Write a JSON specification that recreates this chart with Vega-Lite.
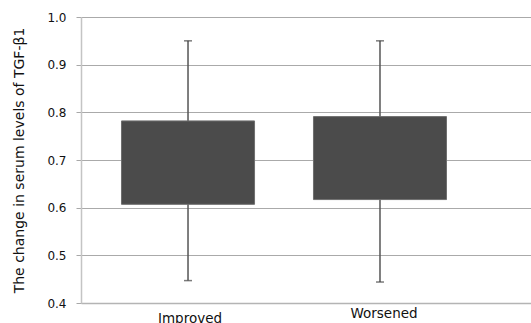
{
  "$schema": "https://vega.github.io/schema/vega-lite/v6.json",
  "width": 450,
  "height": 286,
  "autosize": {"type": "none"},
  "padding": {"left": 81, "top": 17, "right": 0, "bottom": 20},
  "background": "white",
  "data": {
    "values": [
      {"group": "Improved", "min": 0.447, "q1": 0.607, "q3": 0.782, "max": 0.95},
      {"group": "Worsened", "min": 0.444, "q1": 0.617, "q3": 0.791, "max": 0.95}
    ]
  },
  "config": {
    "view": {"stroke": null},
    "font": "DejaVu Sans"
  },
  "encoding": {
    "x": {
      "field": "group",
      "type": "nominal",
      "sort": null,
      "scale": {"paddingInner": 0.307, "paddingOuter": 0.3255, "align": 0.324},
      "axis": {
        "title": null,
        "labelAngle": 0,
        "labelFont": "DejaVu Sans",
        "labelFontSize": 13.5,
        "labelColor": "#111111",
        "ticks": false,
        "domainColor": "#b4b4b4",
        "domainWidth": 1.5,
        "labelPadding": {"condition": {"test": "datum.value === 'Improved'", "value": 8}, "value": 3},
        "labelOffset": {"condition": {"test": "datum.value === 'Improved'", "value": 2}, "value": 4}
      }
    }
  },
  "layer": [
    {
      "mark": {"type": "rule", "color": "#555555", "strokeWidth": 1.5},
      "encoding": {
        "y": {
          "field": "min",
          "type": "quantitative",
          "scale": {"domain": [0.4, 1.0], "nice": false, "zero": false},
          "axis": {
            "title": "The change in serum levels of TGF-β1",
            "titleFont": "DejaVu Sans",
            "titleFontSize": 14,
            "titleFontWeight": "normal",
            "titleColor": "#111111",
            "titlePadding": 20,
            "values": [0.4, 0.5, 0.6, 0.7, 0.8, 0.9, 1.0],
            "format": ".1f",
            "labelFont": "DejaVu Sans",
            "labelFontSize": 12,
            "labelColor": "#111111",
            "labelPadding": 10,
            "tickSize": 5,
            "tickColor": "#a8a8a8",
            "domainColor": "#c4c4c4",
            "domainWidth": 1.5,
            "grid": true,
            "gridColor": "#aaaaaa",
            "gridWidth": 1
          }
        },
        "y2": {"field": "max"}
      }
    },
    {
      "mark": {"type": "bar", "color": "#4b4b4b", "stroke": "#6f6f6f", "strokeWidth": 1},
      "encoding": {
        "y": {"field": "q1", "type": "quantitative"},
        "y2": {"field": "q3"}
      }
    },
    {
      "mark": {"type": "tick", "color": "#444444", "size": 8, "thickness": 1.5},
      "encoding": {"y": {"field": "max", "type": "quantitative"}}
    },
    {
      "mark": {"type": "tick", "color": "#444444", "size": 8, "thickness": 1.5},
      "encoding": {"y": {"field": "min", "type": "quantitative"}}
    }
  ]
}
